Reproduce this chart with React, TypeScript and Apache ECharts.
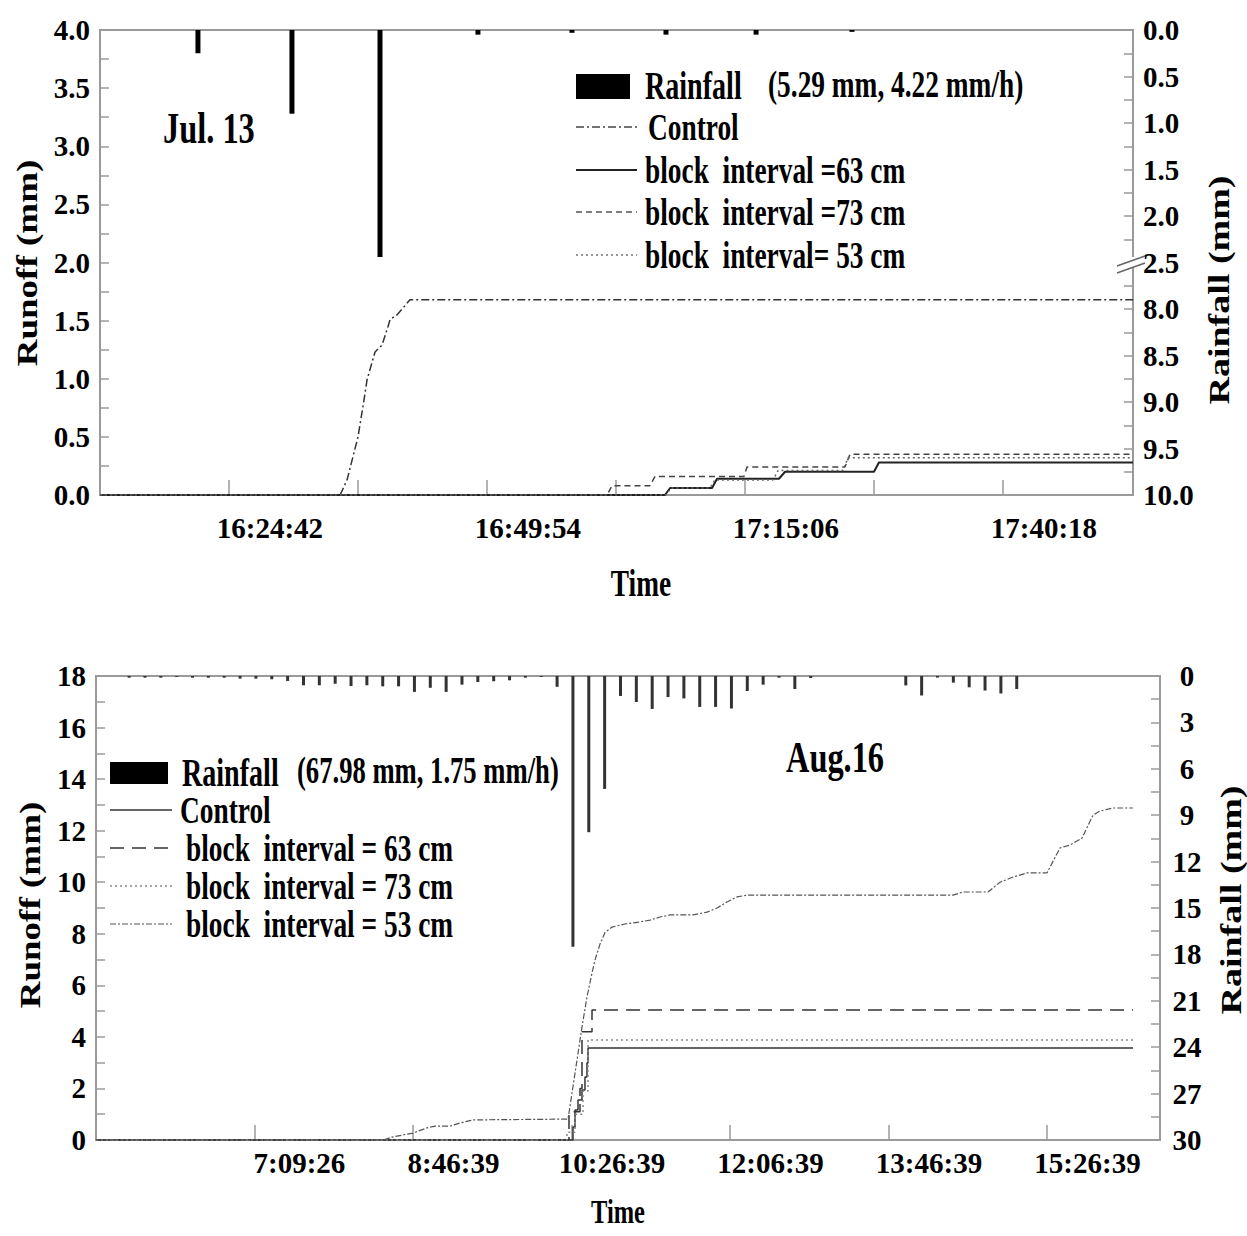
import React, { useEffect, useRef } from "react";
import * as echarts from "echarts";

// ---------- helpers ----------
const toSec = (s: string) => {
  const [h, m, sec = "0"] = s.split(":");
  return +h * 3600 + +m * 60 + +sec;
};
const fmt = (v: number) => {
  const t = Math.round(v);
  const h = Math.floor(t / 3600);
  const m = Math.floor((t % 3600) / 60);
  const s = t % 60;
  return `${h}:${String(m).padStart(2, "0")}:${String(s).padStart(2, "0")}`;
};
const zip = (times: string[], vals: number[]) => times.map((t, i) => [toSec(t), vals[i]]);

// ---------- Jul. 13 (top) ----------
const julAxisRange = ["16:08:06", "17:49:00"];
const julLabelTimes = ["16:24:42", "16:49:54", "17:15:06", "17:40:18"];
const julTickTimes = ["16:20:42", "16:33:18", "16:45:54", "16:58:30", "17:11:06", "17:23:42", "17:36:18"];
const julRainLabels = ["0.0", "0.5", "1.0", "1.5", "2.0", "2.5", "8.0", "8.5", "9.0", "9.5", "10.0"];

const julRainTimes = ["16:17:40", "16:26:51", "16:35:27", "16:45:01", "16:54:12", "17:03:23", "17:12:11", "17:21:33"];
const julRainMm = [0.25, 0.9, 2.44, 0.05, 0.03, 0.05, 0.05, 0.02];

const julControlTimes = ["16:08:06", "16:31:33", "16:32:14", "16:33:18", "16:33:47", "16:34:11", "16:34:40", "16:34:58", "16:35:39", "16:36:14", "16:36:26", "16:37:07", "16:37:42", "16:38:23", "17:49:00"];
const julControlMm = [0, 0, 0.13, 0.5, 0.76, 0.99, 1.14, 1.23, 1.29, 1.45, 1.51, 1.55, 1.61, 1.68, 1.68];

const jul63Times = ["16:08:06", "17:03:17", "17:03:47", "17:07:53", "17:08:22", "17:14:25", "17:15:01", "17:23:42", "17:24:11", "17:49:00"];
const jul63Mm = [0, 0, 0.06, 0.06, 0.14, 0.14, 0.2, 0.2, 0.28, 0.28];

const jul73Times = ["16:08:06", "16:57:37", "16:58:07", "17:01:49", "17:02:19", "17:11:00", "17:11:18", "17:20:52", "17:21:21", "17:49:00"];
const jul73Mm = [0, 0, 0.08, 0.08, 0.16, 0.16, 0.24, 0.24, 0.35, 0.35];

const jul53Times = ["16:08:06", "17:03:23", "17:03:53", "17:07:40", "17:08:10", "17:13:50", "17:14:20", "17:20:40", "17:21:10", "17:49:00"];
const jul53Mm = [0, 0, 0.06, 0.06, 0.13, 0.13, 0.21, 0.21, 0.32, 0.32];

// ---------- Aug.16 (bottom) ----------
const augAxisRange = ["5:01:06", "16:12:23"];
const augLabelTimes = ["7:09:26", "8:46:39", "10:26:39", "12:06:39", "13:46:39", "15:26:39"];
const augTickTimes = ["6:41:06", "8:21:06", "10:01:06", "11:41:06", "13:21:06", "15:01:06"];

const augRainTimes = [
  "5:22", "5:32", "5:42", "5:52", "6:02", "6:12", "6:22", "6:32", "6:42", "6:52",
  "7:02", "7:12", "7:22", "7:32", "7:42", "7:52", "8:02", "8:12", "8:22", "8:32",
  "8:42", "8:52", "9:02", "9:12", "9:22", "9:32", "9:42", "9:52", "10:02", "10:12",
  "10:22", "10:32", "10:42", "10:52", "11:02", "11:12", "11:22", "11:32", "11:42", "11:52",
  "12:02", "12:12", "12:22", "12:32", "12:42", "12:52", "13:02", "13:12", "13:22", "13:32",
  "13:42", "13:52", "14:02", "14:12", "14:22", "14:32", "14:42",
];
const augRainMm = [
  0.11, 0.11, 0.11, 0.06, 0.11, 0.11, 0.11, 0.17, 0.17, 0.21,
  0.32, 0.6, 0.6, 0.5, 0.65, 0.6, 0.67, 0.67, 1.03, 0.76,
  1.03, 0.56, 0.39, 0.34, 0.28, 0.11, 0.06, 0.7, 17.5, 10.1,
  7.3, 1.29, 1.68, 2.13, 1.36, 1.45, 2.0, 2.0, 2.1, 0.97,
  0.56, 0.11, 0.84, 0.13, 0, 0, 0, 0, 0, 0.61,
  1.26, 0.1, 0.43, 0.73, 0.94, 1.13, 0.84,
];

const augControlTimes = ["5:01:06", "10:02:02", "10:03:18", "10:05:12", "10:07:43", "10:09:36", "10:10:52", "10:11:30", "15:55:21"];
const augControlMm = [0, 0.5, 1.16, 1.55, 1.94, 2.44, 2.99, 3.57, 3.57];

const aug63Times = ["5:01:06", "9:59:31", "10:06:27", "10:07:43", "10:14:02", "15:55:21"];
const aug63Mm = [0, 1.1, 2.0, 4.2, 5.04, 5.04];

const aug73Times = ["5:01:06", "9:58:15", "10:03:18", "10:08:21", "10:11:30", "15:55:21"];
const aug73Mm = [0, 0.3, 1.0, 1.9, 3.88, 3.88];

const aug53Times = [
  "5:01:06", "8:02:10", "8:08:29", "8:21:06", "8:29:56", "8:34:59", "8:44:26", "8:50:45", "8:58:57", "9:58:53",
  "9:59:31", "10:04:34", "10:07:43", "10:10:52", "10:14:02", "10:15:55", "10:19:04", "10:22:14", "10:26:39", "10:34:51",
  "10:44:19", "10:50:37", "10:56:56", "11:03:14", "11:17:45", "11:26:35", "11:32:53", "11:39:12", "11:45:30", "11:51:49",
  "14:01:47", "14:08:06", "14:23:52", "14:31:26", "14:39:38", "14:48:28", "15:01:05", "15:09:17", "15:15:36", "15:23:10",
  "15:30:06", "15:34:31", "15:42:43", "15:55:21",
];
const aug53Mm = [
  0, 0, 0.12, 0.27, 0.47, 0.54, 0.54, 0.66, 0.78, 0.81,
  1.05, 3.1, 4.38, 5.55, 6.48, 6.98, 7.6, 8.05, 8.26, 8.38,
  8.46, 8.53, 8.65, 8.73, 8.73, 8.84, 9.0, 9.23, 9.43, 9.5,
  9.5, 9.62, 9.62, 10.0, 10.2, 10.36, 10.36, 11.33, 11.44, 11.71,
  12.6, 12.76, 12.88, 12.88,
];

// ---------- styling ----------
const FONT = '"Liberation Serif", "Times New Roman", serif';
const AXIS_GRAY = "#9a9a9a";
const labelFont = { fontFamily: FONT, fontWeight: "bold" as const, fontSize: 29, color: "#000" };

const txt = (text: string, x: number, y: number, size: number, extra: any = {}) => ({
  type: "text",
  x,
  y,
  z: 100,
  scaleX: extra.rot ? 1 : 0.72,
  scaleY: extra.rot ? 0.8 : 1,
  rotation: extra.rot ? Math.PI / 2 : 0,
  style: {
    text,
    fontSize: size,
    fontFamily: FONT,
    fontWeight: "bold",
    fill: "#000",
    align: extra.align || "left",
    textAlign: extra.align || "left",
    verticalAlign: "middle",
    textVerticalAlign: "middle",
  },
});
const seg = (x1: number, y1: number, x2: number, y2: number, dash: any, color = "#333", w = 1.5) => ({
  type: "line",
  z: 100,
  shape: { x1, y1, x2, y2 },
  style: { stroke: color, lineWidth: w, lineDash: dash },
});

export default function App() {
  const ref = useRef<HTMLDivElement>(null);
  useEffect(() => {
    if (!ref.current) return;
    const chart = echarts.init(ref.current, null, { renderer: "svg" });

    const xAxisBase = (range: string[], ticks: string[], labels: string[], gridIndex: number, margin: number) => ({
      type: "value",
      gridIndex,
      min: toSec(range[0]),
      max: toSec(range[1]),
      axisLine: { show: false },
      splitLine: { show: false },
      axisTick: {
        show: true,
        inside: true,
        length: 15,
        customValues: ticks.map(toSec),
        lineStyle: { color: AXIS_GRAY, width: 1.5 },
      },
      axisLabel: { ...labelFont, margin, customValues: labels.map(toSec), formatter: (v: number) => fmt(v) },
    });

    const yAxisBase = (gridIndex: number, position: string, min: number, max: number, interval: number, inverse: boolean, formatter: any, margin: number, align?: string) => ({
      type: "value",
      gridIndex,
      position,
      min,
      max,
      interval,
      inverse,
      axisLine: { show: false },
      splitLine: { show: false },
      axisTick: { show: true, inside: true, length: 9, lineStyle: { color: AXIS_GRAY, width: 1.5 } },
      minorTick: { show: true, splitNumber: 2, length: 9, lineStyle: { color: AXIS_GRAY, width: 1.5 } },
      axisLabel: { ...labelFont, margin, formatter, ...(align ? { align } : {}) },
    });

    const option: any = {
      animation: false,
      backgroundColor: "#fff",
      grid: [
        { left: 100, top: 30, width: 1033, height: 465, show: true, borderColor: AXIS_GRAY, borderWidth: 2, backgroundColor: "transparent" },
        { left: 96, top: 676, width: 1064, height: 464, show: true, borderColor: AXIS_GRAY, borderWidth: 2, backgroundColor: "transparent" },
      ],
      xAxis: [
        xAxisBase(julAxisRange, julTickTimes, julLabelTimes, 0, 18),
        xAxisBase(augAxisRange, augTickTimes, augLabelTimes, 1, 8),
      ],
      yAxis: [
        yAxisBase(0, "left", 0, 4, 0.5, false, (v: number) => v.toFixed(1), 10),
        yAxisBase(0, "right", 0, 5, 0.5, true, (v: number) => julRainLabels[Math.round(v / 0.5)], 10),
        yAxisBase(1, "left", 0, 18, 2, false, (v: number) => String(v), 10),
        yAxisBase(1, "right", 0, 30, 3, true, (v: number) => String(v), 27, "center"),
      ],
      series: [
        {
          name: "Rainfall Jul",
          type: "bar",
          xAxisIndex: 0,
          yAxisIndex: 1,
          barWidth: 5,
          itemStyle: { color: "#000" },
          data: zip(julRainTimes, julRainMm),
        },
        {
          name: "Control Jul",
          type: "line",
          xAxisIndex: 0,
          yAxisIndex: 0,
          symbol: "none",
          lineStyle: { color: "#333", width: 1.5, type: [8, 3, 2, 3] },
          data: zip(julControlTimes, julControlMm),
        },
        {
          name: "63 Jul",
          type: "line",
          xAxisIndex: 0,
          yAxisIndex: 0,
          symbol: "none",
          lineStyle: { color: "#222", width: 2, type: "solid" },
          data: zip(jul63Times, jul63Mm),
        },
        {
          name: "73 Jul",
          type: "line",
          xAxisIndex: 0,
          yAxisIndex: 0,
          symbol: "none",
          lineStyle: { color: "#444", width: 1.5, type: [6, 4] },
          data: zip(jul73Times, jul73Mm),
        },
        {
          name: "53 Jul",
          type: "line",
          xAxisIndex: 0,
          yAxisIndex: 0,
          symbol: "none",
          lineStyle: { color: "#666", width: 1.5, type: [2, 3] },
          data: zip(jul53Times, jul53Mm),
        },
        {
          name: "Rainfall Aug",
          type: "bar",
          xAxisIndex: 1,
          yAxisIndex: 3,
          barWidth: 3,
          itemStyle: { color: "#333" },
          data: zip(augRainTimes, augRainMm),
        },
        {
          name: "Control Aug",
          type: "line",
          xAxisIndex: 1,
          yAxisIndex: 2,
          symbol: "none",
          step: "end",
          lineStyle: { color: "#333", width: 1.5, type: "solid" },
          data: zip(augControlTimes, augControlMm),
        },
        {
          name: "63 Aug",
          type: "line",
          xAxisIndex: 1,
          yAxisIndex: 2,
          symbol: "none",
          step: "end",
          lineStyle: { color: "#333", width: 1.5, type: [14, 8] },
          data: zip(aug63Times, aug63Mm),
        },
        {
          name: "73 Aug",
          type: "line",
          xAxisIndex: 1,
          yAxisIndex: 2,
          symbol: "none",
          step: "end",
          lineStyle: { color: "#888", width: 1.5, type: [2, 3] },
          data: zip(aug73Times, aug73Mm),
        },
        {
          name: "53 Aug",
          type: "line",
          xAxisIndex: 1,
          yAxisIndex: 2,
          symbol: "none",
          lineStyle: { color: "#555", width: 1.2, type: [6, 2, 2, 2] },
          data: zip(aug53Times, aug53Mm),
        },
      ],
      graphic: [
        // top chart texts
        txt("Jul. 13", 163, 128, 45),
        txt("Runoff (mm)", 27, 263, 37, { rot: true, align: "center" }),
        txt("Rainfall (mm)", 1218, 290, 38, { rot: true, align: "center" }),
        txt("Time", 641, 583, 38, { align: "center" }),
        // top legend
        { type: "rect", z: 100, shape: { x: 576, y: 74, width: 54, height: 25 }, style: { fill: "#000" } },
        txt("Rainfall", 645, 86, 39),
        txt("(5.29 mm, 4.22 mm/h)", 768, 84, 38),
        seg(576, 127, 637, 127, [8, 3, 2, 3], "#444", 1.5),
        txt("Control", 648, 127, 38),
        seg(576, 170, 637, 170, null, "#222", 2),
        txt("block  interval =63 cm", 645, 170, 38),
        seg(576, 212, 637, 212, [6, 4], "#555", 1.5),
        txt("block  interval =73 cm", 645, 212, 38),
        seg(576, 255, 637, 255, [2, 3], "#777", 1.5),
        txt("block  interval= 53 cm", 645, 255, 38),
        // axis break on right axis
        { type: "rect", z: 99, shape: { x: 1125, y: 257, width: 14, height: 11 }, style: { fill: "#fff" } },
        seg(1117, 266, 1145, 256, null, "#666", 1.5),
        seg(1117, 273, 1145, 263, null, "#666", 1.5),
        // bottom chart texts
        txt("Aug.16", 786, 757, 45),
        txt("Runoff (mm)", 30, 905, 37, { rot: true, align: "center" }),
        txt("Rainfall (mm)", 1230, 900, 38, { rot: true, align: "center" }),
        txt("Time", 618, 1212, 34, { align: "center" }),
        // bottom legend
        { type: "rect", z: 100, shape: { x: 110, y: 762, width: 58, height: 22 }, style: { fill: "#000" } },
        txt("Rainfall", 182, 773, 39),
        txt("(67.98 mm, 1.75 mm/h)", 297, 770, 37),
        seg(110, 810, 172, 810, null, "#333", 1.5),
        txt("Control", 180, 810, 38),
        seg(110, 848, 172, 848, [14, 8], "#333", 1.5),
        txt("block  interval = 63 cm", 186, 848, 38),
        seg(110, 886, 172, 886, [2, 3], "#888", 1.5),
        txt("block  interval = 73 cm", 186, 886, 38),
        seg(110, 924, 172, 924, [6, 2, 2, 2], "#555", 1.2),
        txt("block  interval = 53 cm", 186, 924, 38),
      ],
    };

    chart.setOption(option);
    return () => chart.dispose();
  }, []);

  return <div ref={ref} style={{ position: "absolute", left: 0, top: 0, width: 1247, height: 1236 }} />;
}
